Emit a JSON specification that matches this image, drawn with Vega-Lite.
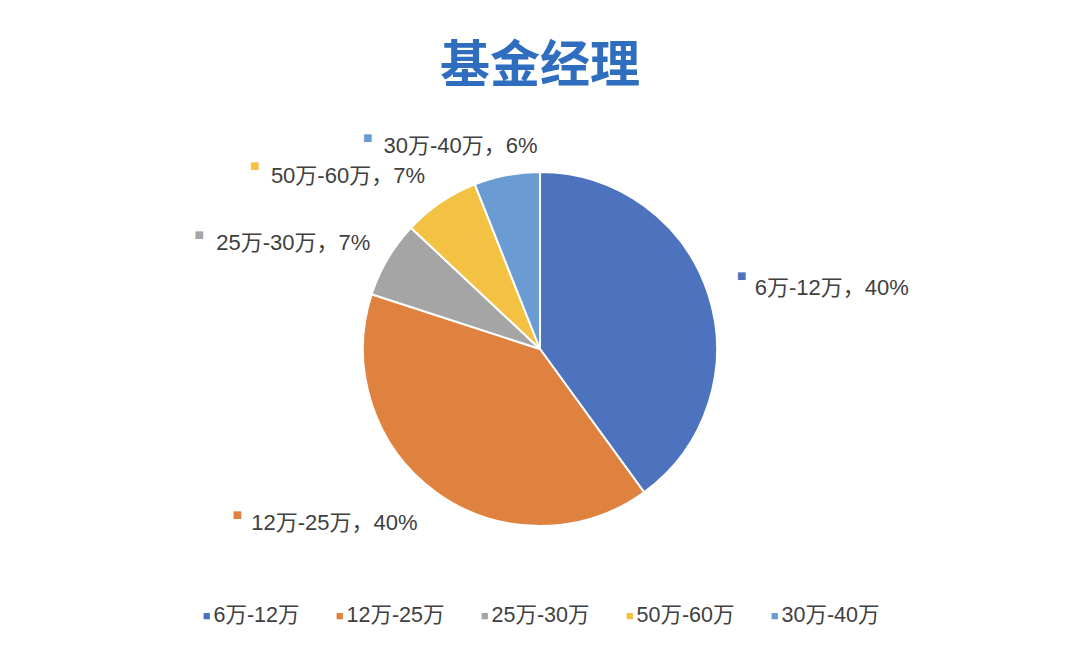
{
  "$schema": "https://vega.github.io/schema/vega-lite/v6.json",
  "width": 1080,
  "height": 498,
  "autosize": "none",
  "padding": {"top": 100, "left": 0, "right": 0, "bottom": 51},
  "background": "white",
  "title": {
    "text": "基金经理",
    "anchor": "middle",
    "orient": "top",
    "offset": 8,
    "font": "Noto Sans CJK SC",
    "fontSize": 50,
    "fontWeight": "bold",
    "color": "#2F6DBF"
  },
  "data": {
    "values": [
      {"cat": "6万-12万", "value": 40, "order": 1, "label": "6万-12万，40%"},
      {"cat": "12万-25万", "value": 40, "order": 2, "label": "12万-25万，40%"},
      {"cat": "25万-30万", "value": 7, "order": 3, "label": "25万-30万，7%"},
      {"cat": "50万-60万", "value": 7, "order": 4, "label": "50万-60万，7%"},
      {"cat": "30万-40万", "value": 6, "order": 5, "label": "30万-40万，6%"}
    ]
  },
  "encoding": {
    "theta": {"field": "value", "type": "quantitative", "stack": true},
    "order": {"field": "order", "type": "quantitative"},
    "detail": {"field": "cat", "type": "nominal"},
    "color": {
      "field": "cat",
      "type": "nominal",
      "scale": {
        "domain": ["6万-12万", "12万-25万", "25万-30万", "50万-60万", "30万-40万"],
        "range": ["#4E73BE", "#E0823F", "#A5A5A5", "#F4C243", "#6A9CD3"]
      },
      "legend": {
        "title": null,
        "orient": "none",
        "direction": "horizontal",
        "columns": 5,
        "legendX": 196,
        "legendY": 505,
        "symbolType": "square",
        "symbolSize": 40,
        "symbolStrokeWidth": 0,
        "labelFont": "Liberation Sans, Noto Sans CJK SC",
        "labelFontSize": 21.5,
        "labelColor": "#404040",
        "labelOffset": -4,
        "columnPadding": 29
      }
    }
  },
  "layer": [
    {
      "mark": {"type": "arc", "outerRadius": 177, "stroke": "white", "strokeWidth": 2}
    },
    {
      "mark": {"type": "text", "radius": 210, "align": "left", "baseline": "middle", "dx": 15, "dy": 4, "font": "Liberation Sans, Noto Sans CJK SC", "fontSize": 22},
      "encoding": {
        "color": {"value": "#404040"},
        "text": {"condition": {"test": "datum.cat === '6万-12万'", "field": "label"}, "value": ""}
      }
    },
    {
      "mark": {"type": "text", "radius": 210, "align": "right", "baseline": "middle", "dx": 1, "dy": 4, "font": "Liberation Sans, Noto Sans CJK SC", "fontSize": 22},
      "encoding": {
        "color": {"value": "#404040"},
        "text": {"condition": {"test": "datum.cat === '12万-25万'", "field": "label"}, "value": ""}
      }
    },
    {
      "mark": {"type": "text", "radius": 210, "align": "right", "baseline": "middle", "dx": 11, "dy": 1, "font": "Liberation Sans, Noto Sans CJK SC", "fontSize": 22},
      "encoding": {
        "color": {"value": "#404040"},
        "text": {"condition": {"test": "datum.cat === '25万-30万'", "field": "label"}, "value": ""}
      }
    },
    {
      "mark": {"type": "text", "radius": 210, "align": "right", "baseline": "middle", "dx": 3, "dy": 1, "font": "Liberation Sans, Noto Sans CJK SC", "fontSize": 22},
      "encoding": {
        "color": {"value": "#404040"},
        "text": {"condition": {"test": "datum.cat === '50万-60万'", "field": "label"}, "value": ""}
      }
    },
    {
      "mark": {"type": "text", "radius": 210, "align": "right", "baseline": "middle", "dx": 37, "dy": 3, "font": "Liberation Sans, Noto Sans CJK SC", "fontSize": 22},
      "encoding": {
        "color": {"value": "#404040"},
        "text": {"condition": {"test": "datum.cat === '30万-40万'", "field": "label"}, "value": ""}
      }
    },
    {
      "mark": {"type": "text", "radius": 210, "align": "center", "baseline": "middle", "dx": 2, "dy": -8, "font": "DejaVu Sans", "fontSize": 10},
      "encoding": {
        "text": {"condition": {"test": "datum.cat === '6万-12万'", "value": "■"}, "value": ""}
      }
    },
    {
      "mark": {"type": "text", "radius": 210, "align": "center", "baseline": "middle", "dx": -179, "dy": -4, "font": "DejaVu Sans", "fontSize": 10},
      "encoding": {
        "text": {"condition": {"test": "datum.cat === '12万-25万'", "value": "■"}, "value": ""}
      }
    },
    {
      "mark": {"type": "text", "radius": 210, "align": "center", "baseline": "middle", "dx": -160, "dy": -7, "font": "DejaVu Sans", "fontSize": 10},
      "encoding": {
        "text": {"condition": {"test": "datum.cat === '25万-30万'", "value": "■"}, "value": ""}
      }
    },
    {
      "mark": {"type": "text", "radius": 210, "align": "center", "baseline": "middle", "dx": -167, "dy": -9, "font": "DejaVu Sans", "fontSize": 10},
      "encoding": {
        "text": {"condition": {"test": "datum.cat === '50万-60万'", "value": "■"}, "value": ""}
      }
    },
    {
      "mark": {"type": "text", "radius": 210, "align": "center", "baseline": "middle", "dx": -133, "dy": -5, "font": "DejaVu Sans", "fontSize": 10},
      "encoding": {
        "text": {"condition": {"test": "datum.cat === '30万-40万'", "value": "■"}, "value": ""}
      }
    }
  ],
  "config": {"view": {"stroke": null}}
}
